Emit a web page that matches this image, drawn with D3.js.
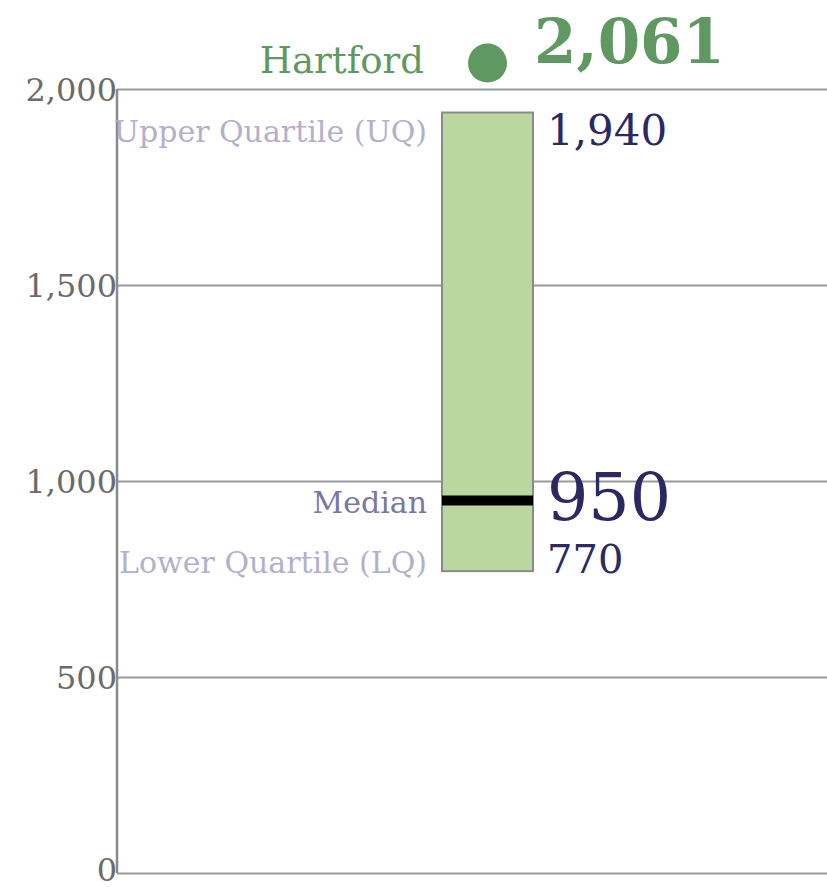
<!DOCTYPE html>
<html>
<head>
<meta charset="utf-8">
<script src="https://cdn.jsdelivr.net/npm/d3@7/dist/d3.min.js"></script>
<style>
  html, body { margin: 0; padding: 0; background: #fff; }
  svg text { font-family: "DejaVu Serif", serif; }
</style>
</head>
<body>
<svg id="chart" width="827" height="887"></svg>
<script>
// Rent distribution for Hartford: quartile box with the city's value marked above
const categories = ["Hartford"];
const lowerQuartile = [770];
const medianValue = [950];
const upperQuartile = [1940];
const cityValue = [2061];
const yTicks = [0, 500, 1000, 1500, 2000];
const tickLabels = ["0", "500", "1,000", "1,500", "2,000"];

const svg = d3.select("#chart");
const plotLeft = 117, plotRight = 827, plotTop = 89, plotBottom = 873;

const y = d3.scaleLinear().domain([0, 2000]).range([plotBottom, plotTop]);
const x = d3.scaleBand().domain(categories).range([442, 533]).padding(0);

// gridlines and tick labels
const axis = d3.axisLeft(y)
  .tickValues(yTicks)
  .tickFormat((d, i) => tickLabels[i])
  .tickSize(-(plotRight - plotLeft))
  .tickSizeOuter(0)
  .tickPadding(0);

const gAxis = svg.append("g")
  .attr("transform", `translate(${plotLeft},0)`)
  .call(axis);
gAxis.select(".domain").remove();
gAxis.selectAll(".tick line")
  .attr("stroke", "#9a9a9a")
  .attr("stroke-width", 2);
gAxis.selectAll(".tick text")
  .attr("fill", "#6b6b6b")
  .attr("dy", "0")
  .attr("y", d => d === 0 ? 7 : 11)
  .style("font-size", "32px");

// vertical axis line
svg.append("line")
  .attr("x1", plotLeft).attr("x2", plotLeft)
  .attr("y1", y(2000)).attr("y2", y(0))
  .attr("stroke", "#8a8a8a")
  .attr("stroke-width", 2.5);

const cat = categories[0];
const bx = x(cat), bw = x.bandwidth(), cx = bx + bw / 2;

// interquartile box
svg.append("rect")
  .attr("x", bx)
  .attr("y", y(upperQuartile[0]))
  .attr("width", bw)
  .attr("height", y(lowerQuartile[0]) - y(upperQuartile[0]))
  .attr("fill", "#bad7a0")
  .attr("stroke", "#8a8a8a")
  .attr("stroke-width", 2);

// median bar
svg.append("line")
  .attr("x1", bx).attr("x2", bx + bw)
  .attr("y1", y(medianValue[0])).attr("y2", y(medianValue[0]))
  .attr("stroke", "#000")
  .attr("stroke-width", 10);

// city marker
svg.append("circle")
  .attr("cx", cx)
  .attr("cy", y(cityValue[0]) - 2)
  .attr("r", 19.5)
  .attr("fill", "#5f9860");

const fmt = d3.format(",");
const leftX = bx - 15, rightX = bx + bw + 14;

// left-hand descriptors
svg.append("text")
  .attr("x", leftX - 3).attr("y", y(cityValue[0]) + 8)
  .attr("text-anchor", "end")
  .attr("fill", "#5f9860")
  .style("font-size", "37px")
  .text(cat);

svg.append("text")
  .attr("x", leftX).attr("y", y(upperQuartile[0]) + 29)
  .attr("text-anchor", "end")
  .attr("fill", "#b3b0cc")
  .style("font-size", "30px")
  .text("Upper Quartile (UQ)");

svg.append("text")
  .attr("x", leftX).attr("y", y(medianValue[0]) + 12)
  .attr("text-anchor", "end")
  .attr("fill", "#7b779f")
  .style("font-size", "30px")
  .text("Median");

svg.append("text")
  .attr("x", leftX).attr("y", y(lowerQuartile[0]) + 2)
  .attr("text-anchor", "end")
  .attr("fill", "#b3b0cc")
  .style("font-size", "30px")
  .text("Lower Quartile (LQ)");

// right-hand values
svg.append("text")
  .attr("x", rightX - 13).attr("y", y(cityValue[0]) - 2)
  .attr("fill", "#5f9860")
  .style("font-size", "61px")
  .style("font-weight", "bold")
  .text(fmt(cityValue[0]));

svg.append("text")
  .attr("x", rightX).attr("y", y(upperQuartile[0]) + 32)
  .attr("fill", "#2b2862")
  .style("font-size", "42px")
  .text(fmt(upperQuartile[0]));

svg.append("text")
  .attr("x", rightX).attr("y", y(medianValue[0]) + 19)
  .attr("fill", "#2b2862")
  .style("font-size", "65px")
  .text(fmt(medianValue[0]));

svg.append("text")
  .attr("x", rightX).attr("y", y(lowerQuartile[0]) + 2)
  .attr("fill", "#2b2862")
  .style("font-size", "40px")
  .text(fmt(lowerQuartile[0]));
</script>
</body>
</html>
